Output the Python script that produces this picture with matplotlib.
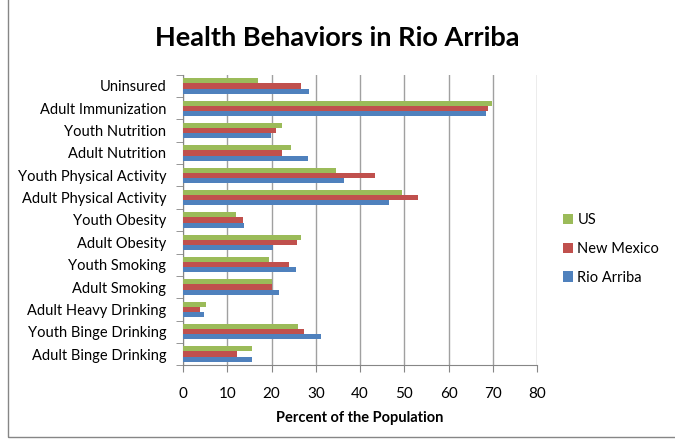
import matplotlib
matplotlib.use('Agg')
import matplotlib.pyplot as plt
import numpy as np
from matplotlib.patches import Rectangle

# categories listed bottom to top, as in the spreadsheet
categories = ['Adult Binge Drinking', 'Youth Binge Drinking', 'Adult Heavy Drinking',
              'Adult Smoking', 'Youth Smoking', 'Adult Obesity', 'Youth Obesity',
              'Adult Physical Activity', 'Youth Physical Activity', 'Adult Nutrition',
              'Youth Nutrition', 'Adult Immunization', 'Uninsured']
rio_arriba = [15.6, 31.1, 4.7, 21.8, 25.5, 20.4, 13.7, 46.6, 36.4, 28.3, 19.9, 68.5, 28.5]
new_mexico = [12.1, 27.4, 3.8, 20.0, 24.0, 25.7, 13.6, 53.1, 43.4, 22.3, 20.9, 68.9, 26.7]
us = [15.7, 26.0, 5.3, 20.0, 19.5, 26.7, 12.0, 49.5, 34.6, 24.4, 22.3, 69.8, 17.0]

plt.rcParams['font.family'] = ['Lato', 'DejaVu Sans']

fig = plt.figure(figsize=(6.75, 4.4), dpi=100)
ax = fig.add_axes([0.271, 0.170, 0.525, 0.660])

y = np.arange(len(categories))
h = 0.23
ax.barh(y - h, rio_arriba, h, color='#4F81BD', label='Rio Arriba', zorder=3)
ax.barh(y, new_mexico, h, color='#C0504D', label='New Mexico', zorder=3)
ax.barh(y + h, us, h, color='#9BBB59', label='US', zorder=3)

ax.set_xlim(0, 80)
ax.set_ylim(-0.5, len(categories) - 0.5)
ax.set_xticks(range(0, 81, 10))
ax.set_yticks(y)
ax.set_yticklabels(categories, fontsize=10.5)
ax.set_yticks(np.arange(-0.5, len(categories), 1), minor=True)
ax.tick_params(axis='y', which='major', length=0, pad=12)
ax.tick_params(axis='y', which='minor', length=5, color='#868686')
ax.tick_params(axis='x', length=5, color='#868686', labelsize=11, pad=11)
ax.grid(axis='x', color='#A0A0A0', linewidth=1, zorder=0)
for s in ['top', 'right']:
    ax.spines[s].set_visible(False)
for s in ['left', 'bottom']:
    ax.spines[s].set_color('#868686')

ax.set_xlabel('Percent of the Population', fontsize=10.5, fontweight='bold', labelpad=7)
fig.suptitle('Health Behaviors in Rio Arriba', fontsize=19.5, fontweight='bold', y=0.94)

handles, labels = ax.get_legend_handles_labels()
ax.legend(handles[::-1], labels[::-1], loc='center left', bbox_to_anchor=(1.035, 0.40),
          frameon=False, fontsize=10.5, handlelength=0.7, handleheight=0.7,
          handletextpad=0.3, labelspacing=1.0)

fig.patches.append(Rectangle((0.012, 0.006), 1.2, 1.2, transform=fig.transFigure,
                             fill=False, edgecolor='#868686', linewidth=1))

plt.savefig('out.png', dpi=100)
